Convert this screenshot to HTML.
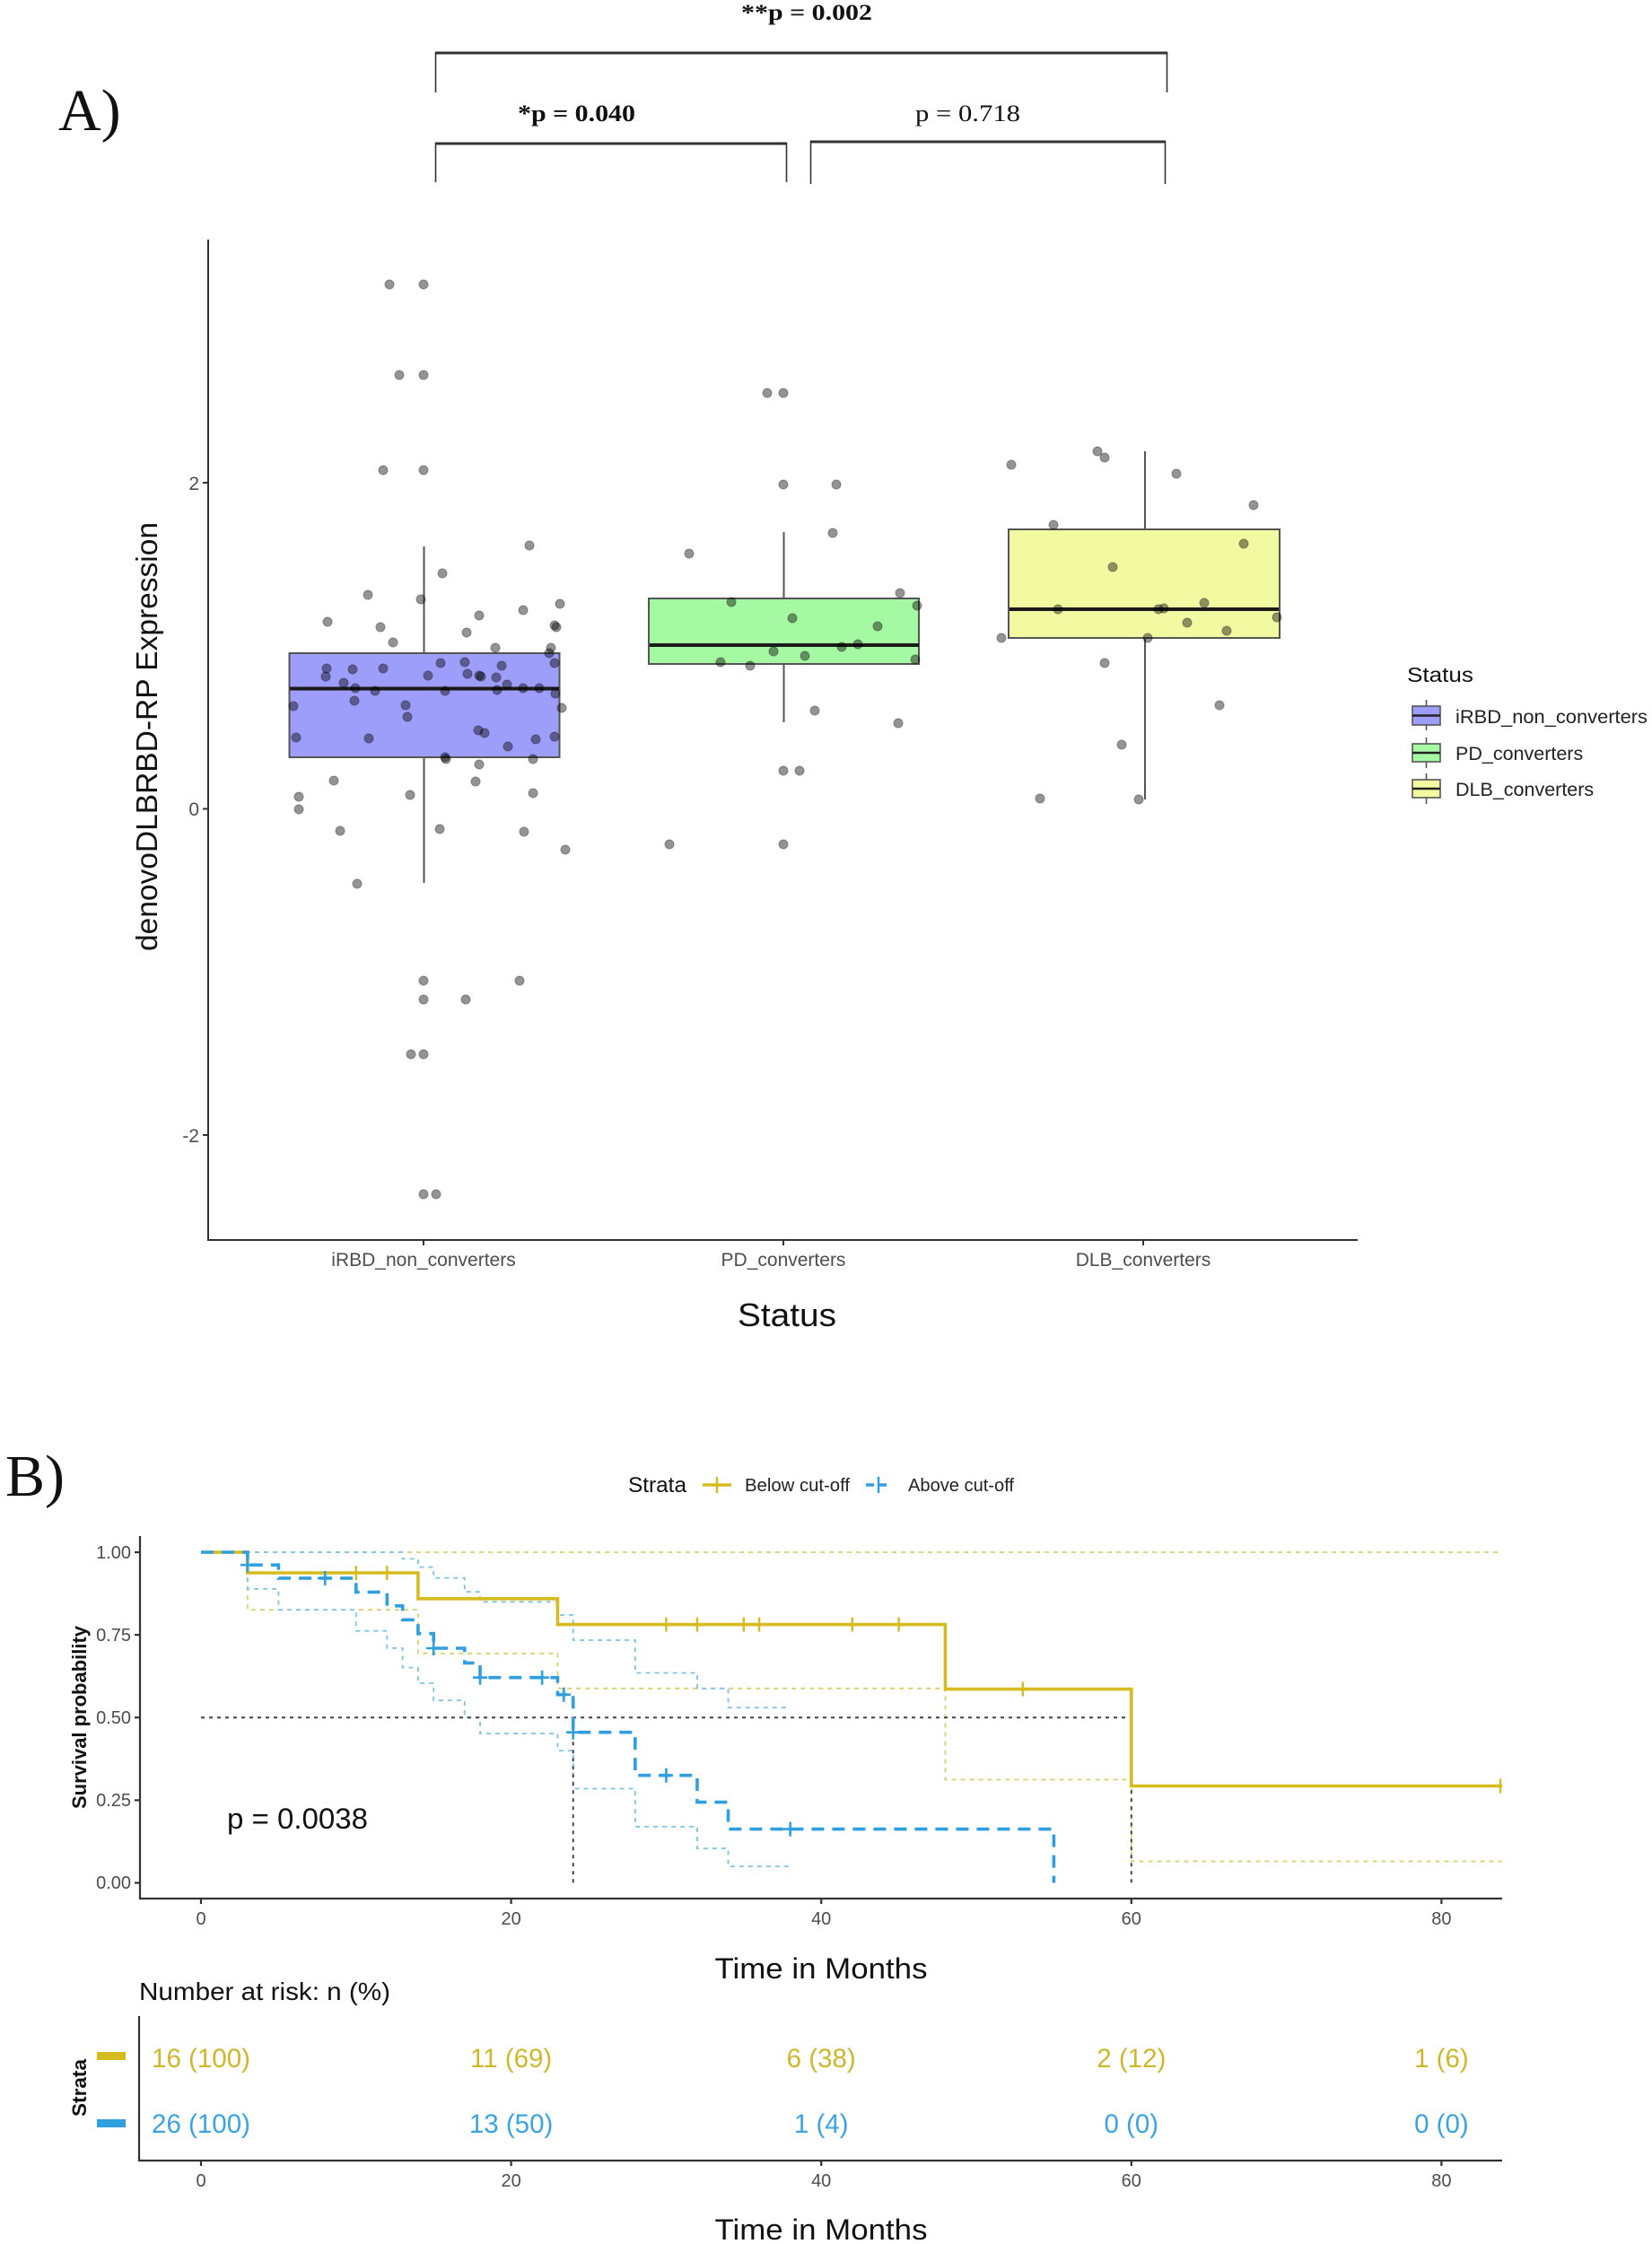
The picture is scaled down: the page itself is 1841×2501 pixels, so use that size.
<!DOCTYPE html>
<html>
<head>
<meta charset="utf-8">
<style>
html,body{margin:0;padding:0;background:#fff;}
svg{display:block;}
text{font-family:"Liberation Sans",Arial,sans-serif;}
.serif{font-family:"Liberation Serif","Times New Roman",serif;}
</style>
</head>
<body>
<svg width="1841" height="2501" viewBox="0 0 1841 2501" xmlns="http://www.w3.org/2000/svg">
<rect x="0" y="0" width="1841" height="2501" fill="#fff"/>

<!-- ============ PANEL A ============ -->
<text class="serif" x="65" y="145" font-size="66" fill="#111">A)</text>

<g stroke="#333" fill="none">
  <line x1="485" y1="59" x2="1301" y2="59" stroke-width="3"/>
  <line x1="485.5" y1="58" x2="485.5" y2="103" stroke-width="1.6"/>
  <line x1="1300.5" y1="58" x2="1300.5" y2="103" stroke-width="1.6"/>
  <line x1="485" y1="160" x2="877" y2="160" stroke-width="3"/>
  <line x1="485.5" y1="159" x2="485.5" y2="203" stroke-width="1.6"/>
  <line x1="876.5" y1="159" x2="876.5" y2="203" stroke-width="1.6"/>
  <line x1="903" y1="158" x2="1299" y2="158" stroke-width="3"/>
  <line x1="903.5" y1="157" x2="903.5" y2="205" stroke-width="1.6"/>
  <line x1="1298.5" y1="157" x2="1298.5" y2="205" stroke-width="1.6"/>
</g>
<text class="serif" x="826" y="22" font-size="25" font-weight="bold" fill="#111" textLength="146" lengthAdjust="spacingAndGlyphs">**p = 0.002</text>
<text class="serif" x="577" y="135" font-size="26" font-weight="bold" fill="#111" textLength="131" lengthAdjust="spacingAndGlyphs">*p = 0.040</text>
<text class="serif" x="1020" y="135" font-size="26" fill="#111" textLength="117" lengthAdjust="spacingAndGlyphs">p = 0.718</text>

<g stroke="#333" stroke-width="2">
  <line x1="232" y1="267" x2="232" y2="1383"/>
  <line x1="231" y1="1382" x2="1513" y2="1382"/>
  <line x1="226" y1="538" x2="232" y2="538"/>
  <line x1="226" y1="901.5" x2="232" y2="901.5"/>
  <line x1="226" y1="1265" x2="232" y2="1265"/>
  <line x1="472" y1="1382" x2="472" y2="1388"/>
  <line x1="873" y1="1382" x2="873" y2="1388"/>
  <line x1="1274" y1="1382" x2="1274" y2="1388"/>
</g>
<g font-size="21" fill="#4d4d4d" text-anchor="end">
  <text x="222" y="546">2</text>
  <text x="222" y="909">0</text>
  <text x="222" y="1273">-2</text>
</g>
<g font-size="21" fill="#4d4d4d" text-anchor="middle">
  <text x="472" y="1411">iRBD_non_converters</text>
  <text x="873" y="1411">PD_converters</text>
  <text x="1274" y="1411">DLB_converters</text>
</g>
<text x="877" y="1478" font-size="36" fill="#111" text-anchor="middle" textLength="110" lengthAdjust="spacingAndGlyphs">Status</text>
<text transform="translate(175,821) rotate(-90)" font-size="33" fill="#111" text-anchor="middle" textLength="478" lengthAdjust="spacingAndGlyphs">denovoDLBRBD-RP Expression</text>

<g stroke="#555" stroke-width="2">
  <line x1="472.5" y1="609" x2="472.5" y2="728"/>
  <line x1="472.5" y1="844" x2="472.5" y2="984"/>
  <rect x="322.5" y="728" width="301" height="116" fill="#9d9dfa"/>
  <line x1="873.5" y1="593" x2="873.5" y2="667"/>
  <line x1="873.5" y1="740" x2="873.5" y2="805"/>
  <rect x="723" y="667" width="301" height="73" fill="#a6f9a3"/>
  <line x1="1276" y1="503" x2="1276" y2="590"/>
  <line x1="1276" y1="711" x2="1276" y2="891"/>
  <rect x="1124" y="590" width="302" height="121" fill="#f1faa0"/>
</g>
<g stroke="#1a1a1a" stroke-width="4">
  <line x1="323" y1="767.5" x2="623" y2="767.5"/>
  <line x1="724" y1="719" x2="1024" y2="719"/>
  <line x1="1125" y1="679" x2="1425" y2="679"/>
</g>

<g fill="#000" fill-opacity="0.42" stroke="#000" stroke-opacity="0.3" stroke-width="1.2">
<circle cx="434" cy="317" r="5"/><circle cx="472" cy="317" r="5"/><circle cx="445" cy="418" r="5"/><circle cx="472" cy="418" r="5"/>
<circle cx="427" cy="524" r="5"/><circle cx="472" cy="524" r="5"/><circle cx="590" cy="608" r="5"/><circle cx="493" cy="639" r="5"/>
<circle cx="410" cy="663" r="5"/><circle cx="469" cy="668" r="5"/><circle cx="583" cy="680" r="5"/><circle cx="624" cy="673" r="5"/>
<circle cx="365" cy="693" r="5"/><circle cx="534" cy="686" r="5"/><circle cx="424" cy="699" r="5"/><circle cx="618" cy="697" r="5"/>
<circle cx="620" cy="699" r="5"/><circle cx="520" cy="705" r="5"/><circle cx="438" cy="716" r="5"/><circle cx="552" cy="722" r="5"/>
<circle cx="614" cy="722" r="5"/><circle cx="612" cy="728" r="5"/><circle cx="364" cy="745" r="5"/><circle cx="393" cy="746" r="5"/>
<circle cx="427" cy="745" r="5"/><circle cx="491" cy="739" r="5"/><circle cx="518" cy="738" r="5"/><circle cx="559" cy="742" r="5"/>
<circle cx="618" cy="739" r="5"/><circle cx="363" cy="754" r="5"/><circle cx="383" cy="761" r="5"/><circle cx="396" cy="767" r="5"/>
<circle cx="418" cy="770" r="5"/><circle cx="477" cy="753" r="5"/><circle cx="521" cy="751" r="5"/><circle cx="534" cy="753" r="5"/>
<circle cx="536" cy="754" r="5"/><circle cx="553" cy="755" r="5"/><circle cx="554" cy="769" r="5"/><circle cx="565" cy="763" r="5"/>
<circle cx="583" cy="767" r="5"/><circle cx="601" cy="767" r="5"/><circle cx="496" cy="770" r="5"/><circle cx="327" cy="787" r="5"/>
<circle cx="395" cy="781" r="5"/><circle cx="452" cy="786" r="5"/><circle cx="454" cy="799" r="5"/><circle cx="626" cy="789" r="5"/>
<circle cx="619" cy="773" r="5"/><circle cx="330" cy="822" r="5"/><circle cx="411" cy="823" r="5"/><circle cx="533" cy="814" r="5"/>
<circle cx="540" cy="817" r="5"/><circle cx="566" cy="832" r="5"/><circle cx="597" cy="824" r="5"/><circle cx="618" cy="821" r="5"/>
<circle cx="496" cy="844" r="5"/><circle cx="497" cy="846" r="5"/><circle cx="534" cy="852" r="5"/><circle cx="594" cy="846" r="5"/>
<circle cx="372" cy="870" r="5"/><circle cx="530" cy="871" r="5"/><circle cx="333" cy="888" r="5"/><circle cx="457" cy="886" r="5"/>
<circle cx="594" cy="884" r="5"/><circle cx="333" cy="902" r="5"/><circle cx="379" cy="926" r="5"/><circle cx="490" cy="924" r="5"/>
<circle cx="584" cy="927" r="5"/><circle cx="630" cy="947" r="5"/><circle cx="398" cy="985" r="5"/><circle cx="472" cy="1093" r="5"/>
<circle cx="472" cy="1114" r="5"/><circle cx="519" cy="1114" r="5"/><circle cx="579" cy="1093" r="5"/><circle cx="458" cy="1175" r="5"/>
<circle cx="472" cy="1175" r="5"/><circle cx="472" cy="1331" r="5"/><circle cx="486" cy="1331" r="5"/>
<circle cx="855" cy="438" r="5"/><circle cx="873" cy="438" r="5"/><circle cx="873" cy="540" r="5"/><circle cx="932" cy="540" r="5"/>
<circle cx="928" cy="594" r="5"/><circle cx="768" cy="617" r="5"/><circle cx="1003" cy="661" r="5"/><circle cx="815" cy="671" r="5"/>
<circle cx="1022" cy="675" r="5"/><circle cx="883" cy="689" r="5"/><circle cx="978" cy="698" r="5"/><circle cx="938" cy="721" r="5"/>
<circle cx="956" cy="718" r="5"/><circle cx="862" cy="726" r="5"/><circle cx="897" cy="731" r="5"/><circle cx="803" cy="738" r="5"/>
<circle cx="836" cy="742" r="5"/><circle cx="1020" cy="735" r="5"/><circle cx="908" cy="792" r="5"/><circle cx="1001" cy="806" r="5"/>
<circle cx="873" cy="859" r="5"/><circle cx="891" cy="859" r="5"/><circle cx="746" cy="941" r="5"/><circle cx="873" cy="941" r="5"/>
<circle cx="1223" cy="503" r="5"/><circle cx="1231" cy="510" r="5"/><circle cx="1127" cy="518" r="5"/><circle cx="1311" cy="528" r="5"/>
<circle cx="1397" cy="563" r="5"/><circle cx="1174" cy="585" r="5"/><circle cx="1386" cy="606" r="5"/><circle cx="1240" cy="632" r="5"/>
<circle cx="1179" cy="679" r="5"/><circle cx="1291" cy="679" r="5"/><circle cx="1297" cy="678" r="5"/><circle cx="1342" cy="672" r="5"/>
<circle cx="1423" cy="688" r="5"/><circle cx="1323" cy="694" r="5"/><circle cx="1367" cy="703" r="5"/><circle cx="1116" cy="711" r="5"/>
<circle cx="1279" cy="711" r="5"/><circle cx="1231" cy="739" r="5"/><circle cx="1359" cy="786" r="5"/><circle cx="1250" cy="830" r="5"/>
<circle cx="1159" cy="890" r="5"/><circle cx="1269" cy="891" r="5"/>
</g>

<text x="1568" y="760" font-size="23" fill="#111" textLength="74" lengthAdjust="spacingAndGlyphs">Status</text>
<g stroke="#555" stroke-width="1.6">
  <line x1="1589.5" y1="780" x2="1589.5" y2="814"/>
  <rect x="1574" y="787" width="31" height="21" fill="#9d9dfa"/>
  <line x1="1574" y1="797.5" x2="1605" y2="797.5" stroke="#222" stroke-width="2.5"/>
  <line x1="1589.5" y1="822" x2="1589.5" y2="856"/>
  <rect x="1574" y="829" width="31" height="20" fill="#a6f9a3"/>
  <line x1="1574" y1="839" x2="1605" y2="839" stroke="#222" stroke-width="2.5"/>
  <line x1="1589.5" y1="862" x2="1589.5" y2="896"/>
  <rect x="1574" y="869" width="31" height="20" fill="#f1faa0"/>
  <line x1="1574" y1="879" x2="1605" y2="879" stroke="#222" stroke-width="2.5"/>
</g>
<g font-size="21.5" fill="#222">
  <text x="1622" y="806" textLength="214" lengthAdjust="spacingAndGlyphs">iRBD_non_converters</text>
  <text x="1622" y="847">PD_converters</text>
  <text x="1622" y="887">DLB_converters</text>
</g>

<!-- ============ PANEL B ============ -->
<text class="serif" x="6" y="1667" font-size="66" fill="#111">B)</text>

<text x="700" y="1663" font-size="24" fill="#111" textLength="65" lengthAdjust="spacingAndGlyphs">Strata</text>
<line x1="783" y1="1655" x2="815" y2="1655" stroke="#D6BB1E" stroke-width="3.5"/>
<line x1="799" y1="1646" x2="799" y2="1664" stroke="#D6BB1E" stroke-width="2.5"/>
<text x="830" y="1662" font-size="20" fill="#222" textLength="117" lengthAdjust="spacingAndGlyphs">Below cut-off</text>
<line x1="965" y1="1655" x2="993" y2="1655" stroke="#2E9FDF" stroke-width="3.5" stroke-dasharray="9,5"/>
<line x1="979" y1="1646" x2="979" y2="1664" stroke="#2E9FDF" stroke-width="2.5"/>
<text x="1012" y="1662" font-size="20" fill="#222" textLength="118" lengthAdjust="spacingAndGlyphs">Above cut-off</text>

<g stroke="#333" stroke-width="2.2">
  <line x1="156" y1="1712" x2="156" y2="2117"/>
  <line x1="155" y1="2116" x2="1674" y2="2116"/>
  <line x1="150" y1="1730" x2="156" y2="1730"/>
  <line x1="150" y1="1822.1" x2="156" y2="1822.1"/>
  <line x1="150" y1="1914.25" x2="156" y2="1914.25"/>
  <line x1="150" y1="2006.4" x2="156" y2="2006.4"/>
  <line x1="150" y1="2098.5" x2="156" y2="2098.5"/>
  <line x1="224" y1="2116" x2="224" y2="2122"/>
  <line x1="569.6" y1="2116" x2="569.6" y2="2122"/>
  <line x1="915.2" y1="2116" x2="915.2" y2="2122"/>
  <line x1="1260.8" y1="2116" x2="1260.8" y2="2122"/>
  <line x1="1606.4" y1="2116" x2="1606.4" y2="2122"/>
</g>
<g font-size="20" fill="#4d4d4d" text-anchor="end">
  <text x="146" y="1737">1.00</text>
  <text x="146" y="1829">0.75</text>
  <text x="146" y="1921">0.50</text>
  <text x="146" y="2013">0.25</text>
  <text x="146" y="2105">0.00</text>
</g>
<g font-size="20" fill="#4d4d4d" text-anchor="middle">
  <text x="224" y="2145">0</text>
  <text x="569.6" y="2145">20</text>
  <text x="915.2" y="2145">40</text>
  <text x="1260.8" y="2145">60</text>
  <text x="1606.4" y="2145">80</text>
</g>
<text transform="translate(96,1914) rotate(-90)" font-size="22" font-weight="bold" fill="#111" text-anchor="middle" textLength="204" lengthAdjust="spacingAndGlyphs">Survival probability</text>
<text x="915" y="2205" font-size="32" fill="#111" text-anchor="middle" textLength="237" lengthAdjust="spacingAndGlyphs">Time in Months</text>

<g fill="none" stroke-width="1.8" stroke-dasharray="5,5">
  <path d="M224,1730 H1674" stroke="#D8D070" />
  <path d="M224,1730 H275.84 V1794.1 H465.92 V1842.8 H621.44 V1881.8 H1053.44 V1983.5 H1260.8 V2074.5 H1674" stroke="#D8D070"/>
  <path d="M224,1730 H448.64 V1737.4 H465.92 V1746.6 H483.2 V1758.7 H517.76 V1774.2 H535.04 V1785.3 H621.44 V1800 H638.72 V1828 H707.84 V1864.5 H776.96 V1881.8 H811.52 V1903.2 H880.64" stroke="#7fc3ea"/>
  <path d="M224,1730 H275.84 V1770.9 H310.4 V1794.1 H396.8 V1817.7 H431.36 V1836.9 H448.64 V1858.6 H465.92 V1875.9 H483.2 V1895.1 H517.76 V1914.25 H535.04 V1932 H621.44 V1951.1 H638.72 V1993.5 H707.84 V2035.9 H776.96 V2060.2 H811.52 V2080.1 H880.64" stroke="#7fc3ea"/>
</g>
<g fill="none" stroke="#444" stroke-width="2" stroke-dasharray="4,5">
  <path d="M224,1914.25 H1260.8"/>
  <path d="M638.72,1914.25 V2098.5"/>
  <path d="M1260.8,1914.25 V2098.5"/>
</g>
<path d="M224,1730 H275.84 V1753 H465.92 V1781.8 H621.44 V1810.6 H1053.44 V1882.6 H1260.8 V1990.5 H1674" fill="none" stroke="#D6BB1E" stroke-width="3.6"/>
<path d="M224,1730 H275.84 V1744.2 H310.4 V1758.9 H396.8 V1774.4 H431.36 V1789.8 H448.64 V1805.3 H465.92 V1820.7 H483.2 V1837 H517.76 V1853.4 H535.04 V1869.7 H621.44 V1888.7 H638.72 V1930.7 H707.84 V1978.7 H776.96 V2008.6 H811.52 V2038.6 H1174.4 V2098.5" fill="none" stroke="#2E9FDF" stroke-width="3.6" stroke-dasharray="14,9"/>
<g stroke="#D6BB1E" stroke-width="2.4">
  <path d="M396.8,1745 V1761 M431.36,1745 V1761 M742.4,1802.6 V1818.6 M776.96,1802.6 V1818.6 M828.8,1802.6 V1818.6 M846.08,1802.6 V1818.6 M949.76,1802.6 V1818.6 M1001.6,1802.6 V1818.6 M1139.84,1874.6 V1890.6 M1672,1982.5 V1998.5"/>
</g>
<g stroke="#2E9FDF" stroke-width="2.6">
  <path d="M275.84,1736.2 V1752.2 M268,1744.2 H284
           M362.24,1750.9 V1766.9 M354,1758.9 H370
           M483.2,1829 V1845 M475,1837 H491
           M535.04,1861.7 V1877.7 M527,1869.7 H543
           M604.16,1861.7 V1877.7 M596,1869.7 H612
           M628.35,1880.7 V1896.7 M620,1888.7 H636
           M638.72,1922.7 V1938.7 M631,1930.7 H647
           M742.4,1970.7 V1986.7 M734,1978.7 H750
           M880.64,2030.6 V2046.6 M872,2038.6 H888"/>
</g>
<text x="253" y="2038" font-size="32" fill="#111" textLength="157" lengthAdjust="spacingAndGlyphs">p = 0.0038</text>

<text x="155" y="2229" font-size="28" fill="#111" textLength="280" lengthAdjust="spacingAndGlyphs">Number at risk: n (%)</text>
<g stroke="#333" stroke-width="2.2">
  <line x1="155" y1="2247" x2="155" y2="2409"/>
  <line x1="154" y1="2408" x2="1674" y2="2408"/>
  <line x1="224" y1="2408" x2="224" y2="2414"/>
  <line x1="569.6" y1="2408" x2="569.6" y2="2414"/>
  <line x1="915.2" y1="2408" x2="915.2" y2="2414"/>
  <line x1="1260.8" y1="2408" x2="1260.8" y2="2414"/>
  <line x1="1606.4" y1="2408" x2="1606.4" y2="2414"/>
</g>
<rect x="108" y="2287" width="32" height="9" fill="#D6BB1E"/>
<rect x="108" y="2362" width="32" height="9" fill="#2E9FDF"/>
<text transform="translate(96,2327) rotate(-90)" font-size="22" font-weight="bold" fill="#111" text-anchor="middle" textLength="64" lengthAdjust="spacingAndGlyphs">Strata</text>
<g font-size="29.5" fill="#CDB82C" text-anchor="middle">
  <text x="224" y="2304">16 (100)</text>
  <text x="569.6" y="2304">11 (69)</text>
  <text x="915.2" y="2304">6 (38)</text>
  <text x="1260.8" y="2304">2 (12)</text>
  <text x="1606.4" y="2304">1 (6)</text>
</g>
<g font-size="29.5" fill="#3AA4E2" text-anchor="middle">
  <text x="224" y="2377">26 (100)</text>
  <text x="569.6" y="2377">13 (50)</text>
  <text x="915.2" y="2377">1 (4)</text>
  <text x="1260.8" y="2377">0 (0)</text>
  <text x="1606.4" y="2377">0 (0)</text>
</g>
<g font-size="20" fill="#4d4d4d" text-anchor="middle">
  <text x="224" y="2437">0</text>
  <text x="569.6" y="2437">20</text>
  <text x="915.2" y="2437">40</text>
  <text x="1260.8" y="2437">60</text>
  <text x="1606.4" y="2437">80</text>
</g>
<text x="915" y="2496" font-size="32" fill="#111" text-anchor="middle" textLength="237" lengthAdjust="spacingAndGlyphs">Time in Months</text>
</svg>
</body>
</html>
